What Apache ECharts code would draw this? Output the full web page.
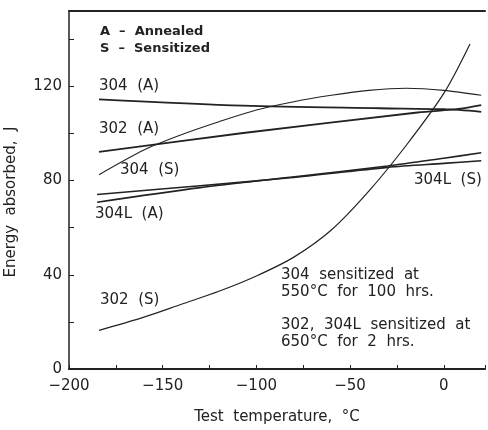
<!DOCTYPE html>
<html>
<head>
<meta charset="utf-8">
<script src="https://cdn.jsdelivr.net/npm/echarts@6/dist/echarts.min.js"></script>
<style>
  html, body { margin: 0; padding: 0; background: #fff; }
  #chart { width: 488px; height: 430px; }
</style>
</head>
<body>
<div id="chart"></div>
<script>
// values (temperature in °C, energy in J)
const temp304A = [-184, -107, -34, 0, 20];
const energy304A = [114.5, 111.8, 110.7, 110.3, 109.2];

const temp302A = [-184, -107, -14, 8, 20];
const energy302A = [92.2, 100.2, 108.9, 110.4, 112];

const temp304S = [-184, -160, -140, -120, -100, -80, -60, -40, -20, 0, 20];
const energy304S = [82.5, 93, 99.5, 105, 110, 113.5, 116.2, 118.3, 119.2, 118.3, 116.2];

const temp304LA = [-185, -130, -82, -30, 0, 20];
const energy304LA = [70.8, 77, 81.4, 86.2, 89.5, 91.8];

const temp304LS = [-185, -130, -82, -30, 0, 20];
const energy304LS = [74.1, 77.8, 81.2, 85.6, 87.3, 88.4];

const temp302S = [-184, -160, -140, -120, -100, -80, -60, -40, -20, 0, 14];
const energy302S = [16.4, 22, 27.5, 33, 39.5, 47.5, 59, 75.5, 95, 117, 138];

const ink = "#222";
const font = "DejaVu Sans";

const zip = (xs, ys) => xs.map((x, i) => [x, ys[i]]);

const line = (name, xs, ys, width) => ({
  name: name,
  type: "line",
  data: zip(xs, ys),
  smooth: 0.3,
  showSymbol: false,
  silent: true,
  lineStyle: { color: ink, width: width },
});

const label = (text, x, y, opts) => ({
  type: "text",
  left: x,
  top: y,
  style: Object.assign({
    text: text,
    fill: ink,
    font: "15px " + font,
  }, opts || {}),
});

const mChart = echarts.init(document.getElementById("chart"));

const options = {
  backgroundColor: "#fff",
  animation: false,
  grid: { left: 69, right: 3, top: 11, bottom: 59 },
  xAxis: [
    {
      type: "value",
      min: -200,
      max: 22,
      interval: 25,
      name: "Test  temperature,  °C",
      nameLocation: "middle",
      nameGap: 41,
      nameTextStyle: { color: ink, fontFamily: font, fontSize: 15 },
      axisLine: { onZero: false, lineStyle: { color: ink, width: 2 } },
      axisTick: { inside: true, length: 4, lineStyle: { color: ink } },
      axisLabel: {
        color: ink,
        fontFamily: font,
        fontSize: 15,
        margin: 10,
        formatter: (v) => (v % 50 === 0 ? String(v).replace("-", "\u2212") : ""),
      },
      splitLine: { show: false },
    },
    {
      type: "value",
      position: "top",
      min: -200,
      max: 22,
      axisLine: { show: true, onZero: false, lineStyle: { color: ink, width: 2 } },
      axisTick: { show: false },
      axisLabel: { show: false },
      splitLine: { show: false },
    },
  ],
  yAxis: {
    type: "value",
    min: 0,
    max: 152,
    interval: 20,
    axisLine: { show: true, onZero: false, lineStyle: { color: ink, width: 1.5 } },
    axisTick: { inside: true, length: 5, lineStyle: { color: ink } },
    axisLabel: {
      color: ink,
      fontFamily: font,
      fontSize: 15,
      margin: 7,
      formatter: (v) => (v % 40 === 0 ? String(v) : ""),
    },
    splitLine: { show: false },
  },
  series: [
    line("304 (A)", temp304A, energy304A, 1.8),
    line("302 (A)", temp302A, energy302A, 1.8),
    line("304 (S)", temp304S, energy304S, 1.1),
    line("304L (A)", temp304LA, energy304LA, 1.6),
    line("304L (S)", temp304LS, energy304LS, 1.6),
    line("302 (S)", temp302S, energy302S, 1.2),
  ],
  graphic: [
    {
      type: "text",
      x: 4,
      y: 202,
      rotation: Math.PI / 2,
      style: {
        text: "Energy  absorbed,  J",
        fill: ink,
        font: "15px " + font,
        align: "center",
        verticalAlign: "top",
      },
    },
    label("A  \u2013  Annealed", 100, 25, { font: "bold 13px " + font }),
    label("S  \u2013  Sensitized", 100, 42, { font: "bold 13px " + font }),
    label("304  (A)", 99, 79),
    label("302  (A)", 99, 122),
    label("304  (S)", 120, 163),
    label("304L  (A)", 95, 207),
    label("304L  (S)", 414, 173),
    label("302  (S)", 100, 293),
    label("304  sensitized  at", 281, 268),
    label("550°C  for  100  hrs.", 281, 285),
    label("302,  304L  sensitized  at", 281, 318),
    label("650°C  for  2  hrs.", 281, 335),
  ],
};

mChart.setOption(options);
</script>
</body>
</html>
